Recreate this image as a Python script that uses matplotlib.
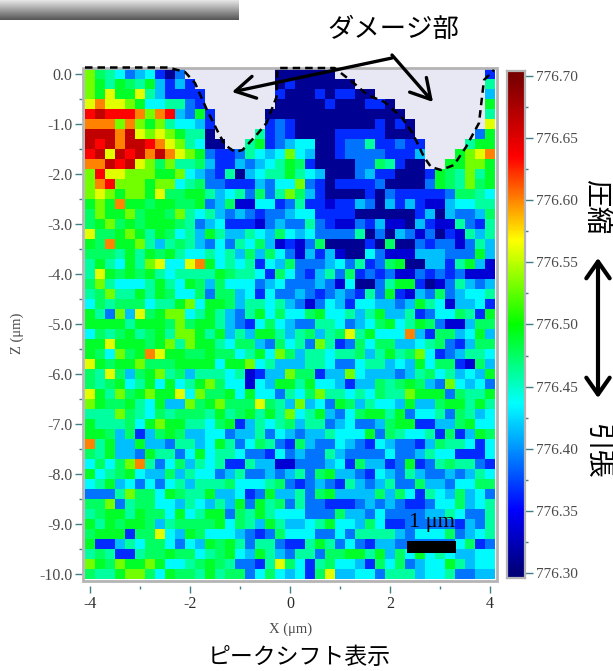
import numpy as np
import matplotlib
matplotlib.use('Agg')
import matplotlib.pyplot as plt
from matplotlib.colors import LinearSegmentedColormap
from matplotlib.patches import Rectangle

# peak position, one letter per cell (w = damaged, no data)
level_values = {
  'n': 776.31, 'd': 776.335, 'b': 776.365, 'a': 776.39, 'c': 776.415, 'k': 776.435,
  't': 776.46, 's': 776.475, 'g': 776.49, 'l': 776.53, 'y': 776.56, 'o': 776.60,
  'r': 776.635, 'R': 776.665, 'w': np.nan,
}
cell_rows = [
  "lstkackbnawwwwwwwwwn" + "nnnnnwwwwwwwwwwwwwwwb",
  "lgtgstgcbcbwwwwwwwwn" + "bnnnnnnwwwwwwwwwwwwwt",
  "lgyggytcbbbbwwwwwwwb" + "nnnbnbbnnwwwwwwwwwwwc",
  "yoyylgkkttabwwwwwwwn" + "nnnnbnnnbbnwwwwwwwwwg",
  "rRrrrolorcagbwwwwwnn" + "nnnnnnnnnnnnwwwwwwwwt",
  "ooololgltkkcbwwwwwba" + "bnnnnnnnnbnbnwwwwwwwy",
  "RRRoRylylgttnwwwwtba" + "bnnnnbbbbbnnnwwwwwwag",
  "RrRoRRroyltknnwwtgba" + "ckknnbaatbbabbwwwwtgg",
  "rRyRrRoRoylgabbatkck" + "lkcnnbaaaabbbcwwwglyo",
  "ooRrRylslttscbbcackt" + "gsbnnnnaastbnnwwggllg",
  "lryylllgglkcabtncktt" + "gtkcnnnacbbnnnbgstltg",
  "lorlllgllktsaabbbcak" + "klabnbbbbannnnagstlsg",
  "lylgllgyssggtcktasat" + "lscbnnnnbnabbbbbasstk",
  "glgoggsggssgacsddkkb" + "atbbdbbcancbcbddckktt",
  "slgglsggsltktcacabaa" + "ckkbbbbnnnnnnbcncaacs",
  "sglsgsgggstackbbbdac" + "aatabddabcddncbddtabt",
  "yssglgtgsktcgtcctkcs" + "kckaaaatnancadanbdtct",
  "gsoggltctstcakatkscd" + "bdasnnnnbnsnnabaadatc",
  "ssstgtgsgtkktktcscsk" + "adcbcdnnkadddcccaaagc",
  "tgtkgtlykkyogktktbkc" + "saaackatbasgnnccbtgcd",
  "tygsgsgtkttttgsttkbs" + "kabctasbabaddababaddd",
  "sltkkktgtkgscskkkack" + "aaacadknnatggbndatcac",
  "tslttgtgskksassckbka" + "acabacabtagbdcasackkt",
  "kstssskttglkggscttkt" + "cadakcbkkccacgtkdcckb",
  "gtalcysgllktgtcatgks" + "kksgkktctgcctbakkstbg",
  "ggggtgggslsggtcabksk" + "caattkacksgktgsaddcss",
  "kstsgtsgtllgtgctcggt" + "ctsctsytgkkkocbssckgc",
  "ggygggsgltlggtksscas" + "ktaltbaskssccktsabcss",
  "gsklsgoyggssgssktgkl" + "scttkttsctgtslkbacttk",
  "ygsgglsssggggkgglktc" + "ccttkaakttckcgkssbdsc",
  "styscsgltsctttktdbcc" + "lssbcclkcccactsktckcg",
  "stsgktgkgktglskkdkcg" + "gtgkkcbccstsgscalkcka",
  "ygtlsglggyklssgkgkka" + "tkslttktksttlgggasttg",
  "lgssgtkgcclsglsssyst" + "clckagsctkkcgccsggtgt",
  "tttlstkstssstgtsgtgt" + "lktgcaksggtgakktastck",
  "gtttskglggttksgbctkt" + "scttackaacsggbbccsgkk",
  "ggscsbcsgscckkacctak" + "cacctkkkgastkktbsbcgs",
  "otgccgccattckgtaksta" + "bscaakcabkcaabcsttkbk",
  "stgccagttakgkttkaabk" + "acaatcaaaakaactkkbbbk",
  "kskslotaksctktbbtccd" + "daaackbsccbagbatsttab",
  "gktsgkccsctkkactaaca" + "ctasgccabkcatcaacactk",
  "ktgckakaktctttskkkts" + "abacabtcactaasccakkss",
  "aaatlsskgsttgcckbagc" + "ctasgccccscskbtkcscka",
  "sslatsskkctkctcgagts" + "ataabbbacacabbakksckt",
  "tsggtgsskgktggastgtk" + "kkaaasccakaaaacctkaat",
  "gtgsggsctssssgkstcgt" + "ccktgkkcskbbaaaaabcat",
  "sgggbssykcgskkkcabas" + "kkkaakattttcakkksackt",
  "gbbctksskakcgsgtatta" + "bbtgtakabccaaaaaaksba",
  "tstbbtssgssktsgkcgtc" + "attassggtgcskgktkcckk",
  "lgslgglgkktsgstaabty" + "skbtskkcbsksackkgtckk",
  "sttgllskgsstgtssaksk" + "ckbsycckkatttckktaacc",
]

# outline of the damaged part (um)
damage_x = [-4.10, -2.44, -2.10, -1.90, -1.66, -1.44, -1.30, -1.10, -0.95, -0.67, -0.47, -0.27, -0.25,
            0.89, 1.25, 1.55, 1.89, 2.23, 2.45, 2.68, 2.82, 3.02, 3.28, 3.52, 3.78, 3.88, 4.08]
damage_z = [0.13, 0.13, 0.04, -0.18, -0.72, -1.16, -1.42, -1.56, -1.52, -1.22, -0.98, -0.46, 0.12,
            0.12, -0.16, -0.42, -0.56, -0.86, -1.18, -1.66, -1.86, -1.92, -1.82, -1.46, -0.98, -0.12, 0.08]

x_ticks = [-4, -2, 0, 2, 4]
x_labels = ['-4', '-2', '0', '2', '4']
x_minor = [-3, -1, 1, 3]
z_ticks = [0, -1, -2, -3, -4, -5, -6, -7, -8, -9, -10]
z_labels = ['0.0', '-1.0', '-2.0', '-3.0', '-4.0', '-5.0', '-6.0', '-7.0', '-8.0', '-9.0', '-10.0']
cbar_ticks = [776.30, 776.35, 776.40, 776.45, 776.50, 776.55, 776.60, 776.65, 776.70]

W, H = 613, 671
SERIF = 'Liberation Serif'
JP = ['Noto Sans CJK JP', 'DejaVu Sans']
TICK_COL = '#3f7f88'
TEXT_COL = '#4a4a4a'
FRAME_COL = '#b4b4b4'

cmap = LinearSegmentedColormap.from_list('peak', [
  (0.0, '#00007a'), (0.125, '#0000ff'), (0.34, '#00ffff'), (0.5, '#00ff00'),
  (0.67, '#ffff00'), (0.84, '#ff0000'), (1.0, '#7a0000')])

values = np.array([[level_values[c] for c in row] for row in cell_rows])


def px_axes(x0, y0, x1, y1):
  return fig.add_axes([x0 / W, 1 - y1 / H, (x1 - x0) / W, (y1 - y0) / H])


fig = plt.figure(figsize=(W / 100, H / 100), dpi=100, facecolor='white')

ax = px_axes(85, 69, 495, 579)
# moving the spines resets the ticks, so this comes first
for sp in ax.spines.values():
  sp.set_visible(False)
ax.spines['bottom'].set_position(('outward', 5))
ax.spines['left'].set_position(('outward', 2))
ax.set_facecolor('#e8e8f5')
ax.imshow(values, cmap=cmap, vmin=776.30, vmax=776.70, extent=[-4.1, 4.1, -10.1, 0.1],
          aspect='auto', interpolation='nearest')
ax.set_xlim(-4.1, 4.1)
ax.set_ylim(-10.1, 0.1)
ax.set_xticks(x_ticks)
ax.set_xticklabels(x_labels)
ax.set_xticks(x_minor, minor=True)
ax.set_yticks(z_ticks)
ax.set_yticklabels(z_labels)
ax.set_yticks(np.array(z_ticks[:-1]) - 0.5, minor=True)
ax.tick_params(which='major', length=5, width=1, color=TICK_COL, labelsize=11.5, labelcolor=TEXT_COL, pad=2,
               labelfontfamily=SERIF)
ax.tick_params(which='minor', length=2.5, width=1, color=TICK_COL)
ax.tick_params(axis='x', which='major', labelcolor='#2a2a2a')

cax = px_axes(507, 71, 525, 578)
grad = np.linspace(776.704, 776.296, 507).reshape(-1, 1)
cax.imshow(grad, cmap=cmap, vmin=776.30, vmax=776.70, aspect='auto',
           extent=[0, 1, 776.296, 776.704])
cax.set_xticks([])
cax.yaxis.tick_right()
cax.set_yticks(cbar_ticks)
cax.set_yticklabels(['%.2f' % v for v in cbar_ticks])
cax.set_yticks(np.array(cbar_ticks[:-1]) + 0.025, minor=True)
cax.tick_params(which='major', length=6, width=1, color=TICK_COL, labelsize=11, labelcolor=TEXT_COL, pad=2,
                labelfontfamily=SERIF)
cax.tick_params(which='minor', length=2.5, width=1, color=TICK_COL)
for sp in cax.spines.values():
  sp.set_color(FRAME_COL)
  sp.set_linewidth(1.6)

# overlay in pixel coordinates for the callouts
over = fig.add_axes([0, 0, 1, 1], zorder=5)
over.axis('off')

top_grad = np.linspace(0, 1, 20).reshape(-1, 1)
over.imshow(top_grad, cmap=LinearSegmentedColormap.from_list('bar', ['#e4e4e4', '#585858']),
            extent=[0, 239, 20, 0], aspect='auto')
over.set_xlim(0, W)
over.set_ylim(H, 0)

over.add_patch(Rectangle((83, 67.5), 414, 513.5, fill=False, ec=FRAME_COL, lw=2))
over.plot(damage_x, damage_z, color='black', ls=(0, (3, 2)), lw=1.8, transform=ax.transData, clip_on=False)

arrow = dict(arrowstyle='->,head_length=0.7,head_width=0.4', color='black', lw=2.4,
             shrinkA=0, shrinkB=0, mutation_scale=20)
over.annotate('', xy=(232, 92), xytext=(392, 58), arrowprops=arrow)
over.annotate('', xy=(433, 102), xytext=(392, 55), arrowprops=arrow)
over.annotate('', xy=(598, 398), xytext=(598, 258),
              arrowprops=dict(arrowstyle='<->,head_length=0.6,head_width=0.42', color='black', lw=3,
                              shrinkA=0, shrinkB=0, mutation_scale=20))

over.add_patch(Rectangle((407, 541), 49, 12, color='black', lw=0))
over.text(432, 522, '1 μm', family=SERIF, fontsize=16, ha='center', va='center', color='black')

over.text(291, 629, 'X (μm)', family=SERIF, fontsize=10.5, ha='center', va='center', color=TEXT_COL)
over.text(17, 333, 'Z (μm)', family=SERIF, fontsize=10.5, rotation=90, ha='center', va='center', color=TEXT_COL)

over.text(393, 29, 'ダメージ部', family=JP, fontsize=19, ha='center', va='center', color='black')
over.text(299, 657, 'ピークシフト表示', family=JP, fontsize=16.5, ha='center', va='center', color='black')
over.text(596, 207, '圧縮', family=JP, fontsize=20, rotation=-90, ha='center', va='center', color='black')
over.text(597, 452, '引張', family=JP, fontsize=20, rotation=-90, ha='center', va='center', color='black')

fig.savefig('out.png', dpi=100)
